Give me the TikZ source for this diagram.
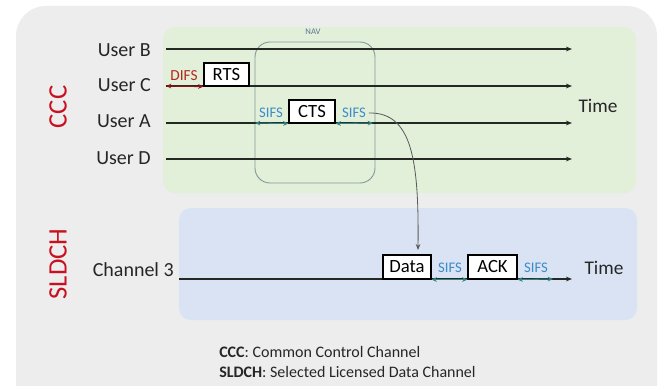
\documentclass[tikz,border=0pt]{standalone}
\usepackage{fontspec}
\setmainfont{Carlito}
\usetikzlibrary{arrows.meta}
\definecolor{outerfill}{RGB}{237,237,237}
\definecolor{greenfill}{RGB}{226,239,217}
\definecolor{bluefill}{RGB}{218,227,243}
\definecolor{chanred}{RGB}{200,16,32}
\definecolor{difsred}{RGB}{180,40,30}
\definecolor{difsarrow}{RGB}{140,20,20}
\definecolor{sifsblue}{RGB}{60,140,200}
\definecolor{sifsarrow}{RGB}{50,130,130}
\definecolor{navline}{RGB}{130,155,155}
\definecolor{navtext}{RGB}{90,120,150}
\definecolor{lineclr}{RGB}{35,40,35}
\begin{document}
\begin{tikzpicture}[x=0.75pt,y=-0.75pt,
  userlbl/.style={font=\fontsize{15}{18}\selectfont, text=black!85, anchor=east, inner sep=0pt},
  timeline/.style={draw=lineclr, line width=0.9pt, -{Stealth[length=4.5pt,width=3.5pt]}},
  pkt/.style={draw=black, fill=white, line width=0.8pt, font=\fontsize{14}{16}\selectfont, inner sep=0pt, minimum height=24*0.75pt},
  sifslbl/.style={font=\fontsize{11}{13}\selectfont, text=sifsblue, inner sep=0pt},
  sifsarr/.style={draw=sifsarrow, line width=0.8pt, {Stealth[length=4pt,width=3.5pt]}-{Stealth[length=4pt,width=3.5pt]}},
  chanlbl/.style={font=\fontsize{20}{24}\selectfont, text=chanred, rotate=90, inner sep=0pt},
  timelbl/.style={font=\fontsize{14.5}{17}\selectfont, text=black!85, inner sep=0pt},
  legend/.style={font=\fontsize{12}{14}\selectfont, text=black!85, anchor=west, inner sep=0pt}
]
\useasboundingbox (0,0) rectangle (659,385);
\clip (0,0) rectangle (659,385);
\fill[white] (0,0) rectangle (659,385);
% backgrounds
\fill[outerfill, rounded corners=30*0.75pt] (16,6) rectangle (657,430);
\fill[greenfill, rounded corners=12*0.75pt] (163,27) rectangle (636,193);
\fill[bluefill, rounded corners=12*0.75pt] (179,208) rectangle (637,320);
% NAV
\draw[navline, line width=0.7pt, rounded corners=15*0.75pt] (255,42) rectangle (375,183);
\node[font=\fontsize{6.5}{8}\selectfont, text=navtext, inner sep=0pt] (nav) at (313,32) {NAV};
% channel labels
\node[chanlbl] (ccc) at (58,107) {CCC};
\node[chanlbl] (sldch) at (58,264) {SLDCH};
% user labels
\node[userlbl] (ub) at (151,50) {User B};
\node[userlbl] (uc) at (151,85) {User C};
\node[userlbl] (ua) at (151,121) {User A};
\node[userlbl] (ud) at (151,158) {User D};
\node[userlbl] (ch3) at (174,270) {Channel 3};
% timelines
\coordinate (bS) at (166,49);  \coordinate (bE) at (572,49);
\coordinate (cS) at (166,86);  \coordinate (cE) at (572,86);
\coordinate (aS) at (166,123); \coordinate (aE) at (572,123);
\coordinate (dS) at (166,159); \coordinate (dE) at (572,159);
\coordinate (hS) at (179,279); \coordinate (hE) at (572,279);
\draw[timeline] (bS) -- (bE);
\draw[timeline] (cS) -- (cE);
\draw[timeline] (aS) -- (aE);
\draw[timeline] (dS) -- (dE);
\draw[timeline] (hS) -- (hE);
% packets
\node[pkt, minimum width=45*0.75pt, minimum height=23*0.75pt] (rts) at (226.5,74.5) {RTS};
\node[pkt, minimum width=46*0.75pt, minimum height=23*0.75pt] (cts) at (312,111.5) {CTS};
\node[pkt, minimum width=48*0.75pt] (data) at (407,267) {Data};
\node[pkt, minimum width=49*0.75pt] (ack) at (492.5,267) {ACK};
% DIFS
\draw[draw=difsarrow, line width=0.9pt, {Stealth[length=4pt,width=3.5pt]}-{Stealth[length=4pt,width=3.5pt]}] (cS) -- (rts.south west);
\node[font=\fontsize{11.5}{13}\selectfont, text=difsred, inner sep=0pt] (difs) at (184,76) {DIFS};
% SIFS on CCC
\coordinate (s1a) at (255,123);
\coordinate (s2b) at (373,123);
\draw[sifsarr] (s1a) -- (cts.south west);
\draw[sifsarr] (cts.south east) -- (s2b);
\node[sifslbl] (s1) at (271,113) {SIFS};
\node[sifslbl] (s2) at (354,113) {SIFS};
% SIFS on SLDCH
\coordinate (s4b) at (553,279);
\draw[sifsarr] (data.south east) -- (ack.south west);
\draw[sifsarr] (ack.south east) -- (s4b);
\node[sifslbl] (s3) at (450,268) {SIFS};
\node[sifslbl] (s4) at (536,268) {SIFS};
% Time labels
\node[timelbl] (t1) at (598,106) {Time};
\node[timelbl] (t2) at (604,268) {Time};
% curve from CTS side to Data
\coordinate (dtop) at (418,250);
\draw[draw=black!65, line width=0.6pt, -{Stealth[length=4.5pt,width=3.5pt]}] ([xshift=2pt]s2.east) .. controls (412,112) and (419,160) .. (dtop);
% legend
\node[legend] (l1) at (219,352) {\textbf{CCC}: Common Control Channel};
\node[legend] (l2) at (219,372) {\textbf{SLDCH}: Selected Licensed Data Channel};
\end{tikzpicture}
\end{document}
